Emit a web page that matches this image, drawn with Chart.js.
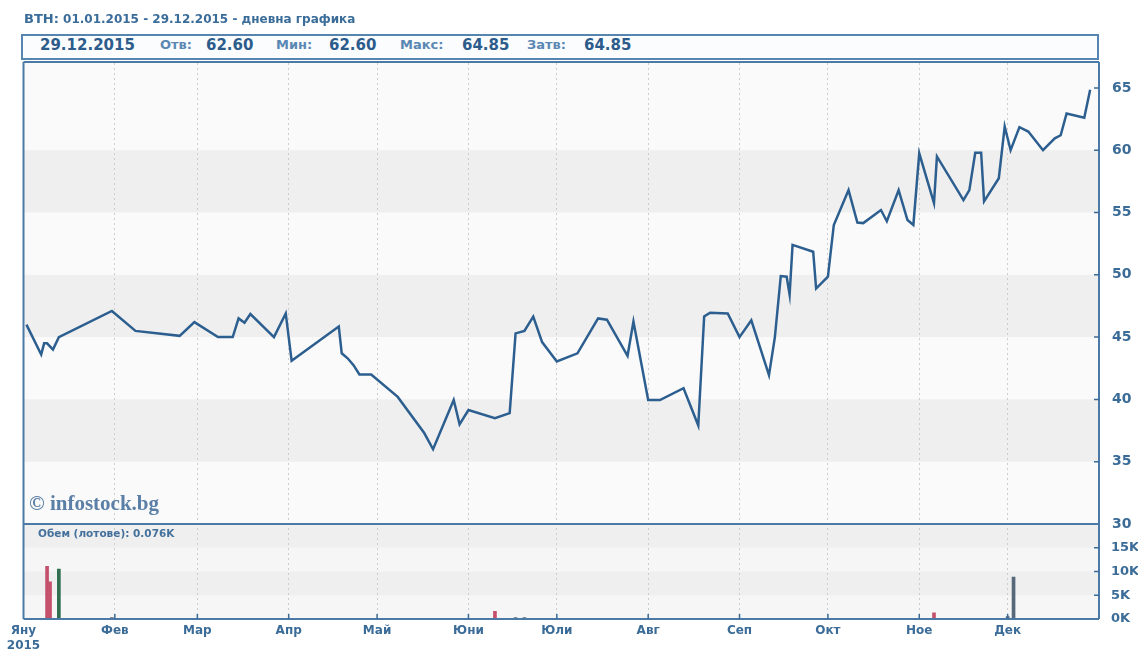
<!DOCTYPE html>
<html><head><meta charset="utf-8">
<script src="https://cdn.jsdelivr.net/npm/chart.js@4/dist/chart.umd.min.js"></script>
<style>
html,body{margin:0;padding:0;background:#fff;}
#wrap{position:relative;width:1138px;height:655px;overflow:hidden;font-family:"DejaVu Sans",sans-serif;}
#wrap canvas{position:absolute;left:0;top:0;}
.t{position:absolute;white-space:nowrap;z-index:2;}
#title{left:24px;top:11px;font-size:12px;font-weight:bold;color:#3a6c9a;}
#title b{font-size:13px;}
#hbox{position:absolute;left:21px;top:34px;width:1074px;height:22px;border:2px solid #5685b0;background:#fbfcfd;z-index:1;}
.hv{position:absolute;top:36px;font-size:15px;font-weight:bold;color:#2c5c8c;white-space:nowrap;z-index:2;}
.hl{position:absolute;top:37px;font-size:13px;font-weight:bold;color:#5a88b4;white-space:nowrap;z-index:2;}
#wm{left:29px;top:491px;font-family:"Liberation Serif",serif;font-size:21px;font-weight:bold;color:#5b7fa6;}
#vl{left:38px;top:527px;font-size:10.5px;font-weight:bold;color:#44719c;}
</style></head><body>
<div id="wrap">
<canvas id="c"></canvas>
<div id="title" class="t"><b>BTH:</b> 01.01.2015 - 29.12.2015 - дневна графика</div>
<div id="hbox"></div>
<div class="hv" style="left:40px">29.12.2015</div>
<div class="hl" style="left:160px">Отв:</div>
<div class="hv" style="left:206px">62.60</div>
<div class="hl" style="left:276px">Мин:</div>
<div class="hv" style="left:329px">62.60</div>
<div class="hl" style="left:400px">Макс:</div>
<div class="hv" style="left:462px">64.85</div>
<div class="hl" style="left:527px">Затв:</div>
<div class="hv" style="left:584px">64.85</div>
<div id="wm" class="t">© infostock.bg</div>
<div id="vl" class="t">Обем (лотове): 0.076K</div>
</div>
<script>
// ---- data ----
const priceDates = ['02.01','07.01','08.01','09.01','11.01','13.01','31.01','08.02','23.02','28.02',
 '08.03','13.03','15.03','17.03','19.03','27.03','31.03','02.04','18.04','19.04',
 '21.04','23.04','25.04','29.04','08.05','17.05','20.05','27.05','29.05','01.06',
 '10.06','15.06','17.06','20.06','23.06','26.06','01.07','08.07','15.07','18.07',
 '25.07','27.07','01.08','05.08','13.08','18.08','20.08','22.08','28.08','01.09',
 '05.09','11.09','13.09','15.09','17.09','18.09','19.09','26.09','27.09','01.10',
 '03.10','08.10','11.10','13.10','19.10','21.10','25.10','28.10','30.10','01.11',
 '06.11','07.11','16.11','18.11','20.11','22.11','23.11','28.11','30.11','02.12',
 '05.12','08.12','13.12','17.12','19.12','21.12','27.12','29.12'];
const priceValues = [46.0,43.6,44.5,44.5,44.0,45.0,47.1,45.5,45.1,46.2,
 45.0,45.0,46.5,46.15,46.85,45.0,46.9,43.1,45.85,43.7,
 43.3,42.75,42.0,42.0,40.2,37.3,36.0,39.95,38.0,39.15,
 38.5,38.9,45.3,45.5,46.65,44.6,43.05,43.7,46.5,46.4,
 43.5,46.25,39.95,39.95,40.9,37.9,46.65,46.95,46.9,45.0,
 46.35,41.95,45.0,49.9,49.85,48.4,52.4,51.85,48.9,49.85,
 54.0,56.8,54.2,54.15,55.2,54.3,56.8,54.4,54.0,59.75,
 55.75,59.5,56.0,56.8,59.8,59.8,55.9,57.75,61.9,60.0,
 61.85,61.5,60.0,60.95,61.2,62.95,62.6,64.85];
const volumeDates = ['09.01','10.01','13.01','31.01','10.06','17.06','20.06','06.11','01.12','03.12'];
const volumeValues = [11100,7800,10500,300,1600,300,300,1300,500,8850];
const volumeSide = ['down','down','up','flat','down','flat','flat','down','flat','flat'];
const monthLabels = ['Яну','Фев','Мар','Апр','Май','Юни','Юли','Авг','Сеп','Окт','Ное','Дек'];
const yearLabel = '2015';
const priceTicks = [30,35,40,45,50,55,60,65];
const volumeTicks = [0,5000,10000,15000];

// ---- helpers ----
function dayOf(s){const p=s.split('.').map(Number);return (Date.UTC(2015,p[1]-1,p[0])-Date.UTC(2015,0,1))/864e5;}
const monthStarts = monthLabels.map((m,i)=>dayOf('01.'+String(i+1).padStart(2,'0')));
const sideColor = {down:'#c4506c', up:'#2f6e4e', flat:'#56687a'};
const axisColor = '#3b6c98';
const lineBlue = '#4a7aa5';

const bgPlugin = {
  id:'bg',
  beforeDraw(chart){
    const {ctx, chartArea:a, scales} = chart;
    const yp = scales.y, yv = scales.yv;
    ctx.save();
    ctx.fillStyle = '#fafafa';
    ctx.fillRect(a.left, yp.top, a.right-a.left, yp.bottom-yp.top);
    ctx.fillStyle = '#f6f6f6';
    ctx.fillRect(a.left, yv.top, a.right-a.left, yv.bottom-yv.top);
    ctx.fillStyle = '#efefef';
    [[35,40],[45,50],[55,60]].forEach(([lo,hi])=>{
      const t = yp.getPixelForValue(hi), b = yp.getPixelForValue(lo);
      ctx.fillRect(a.left, t, a.right-a.left, b-t);
    });
    [[5000,10000],[15000,20000]].forEach(([lo,hi])=>{
      const t = yv.getPixelForValue(hi), b = yv.getPixelForValue(lo);
      ctx.fillRect(a.left, t, a.right-a.left, b-t);
    });
    ctx.restore();
  },
  afterDraw(chart){
    const {ctx, chartArea:a, scales} = chart;
    const yp = scales.y, yv = scales.yv, x = scales.x;
    ctx.save();
    ctx.strokeStyle = lineBlue;
    ctx.lineWidth = 2;
    ctx.beginPath();
    ctx.moveTo(a.left, yp.top-1); ctx.lineTo(a.right, yp.top-1);
    ctx.moveTo(a.left, yv.top); ctx.lineTo(a.right, yv.top);
    ctx.moveTo(a.left, a.bottom); ctx.lineTo(a.right, a.bottom);
    ctx.moveTo(a.left, yp.top-1); ctx.lineTo(a.left, a.bottom);
    ctx.moveTo(a.right, yp.top-1); ctx.lineTo(a.right, a.bottom);
    ctx.stroke();
    ctx.lineWidth = 1.5;
    ctx.strokeStyle = axisColor;
    ctx.beginPath();
    priceTicks.forEach(v=>{ if(v===30) return; const p=yp.getPixelForValue(v); ctx.moveTo(a.right-5,p); ctx.lineTo(a.right,p); });
    volumeTicks.forEach(v=>{ if(v===0) return; const p=yv.getPixelForValue(v); ctx.moveTo(a.right-5,p); ctx.lineTo(a.right,p); });
    monthStarts.forEach(v=>{ if(v===0) return; const p=x.getPixelForValue(v); ctx.moveTo(p,a.bottom-5); ctx.lineTo(p,a.bottom); });
    ctx.stroke();
    ctx.restore();
  }
};

new Chart(document.getElementById('c'), {
  type:'line',
  data:{
    datasets:[
      {type:'line', label:'BTH', yAxisID:'y', xAxisID:'x',
       data: priceDates.map((d,i)=>({x:dayOf(d), y:priceValues[i]})),
       borderColor:'#2c5f8f', borderWidth:2.5, pointRadius:0, tension:0, fill:false, order:1},
      {type:'bar', label:'Обем', yAxisID:'yv', xAxisID:'x',
       data: volumeDates.map((d,i)=>({x:dayOf(d), y:volumeValues[i]})),
       backgroundColor: volumeSide.map(s=>sideColor[s]), barThickness:3, grouped:false, order:2}
    ]
  },
  options:{
    responsive:true, maintainAspectRatio:false, animation:false,
    devicePixelRatio:1,
    layout:{padding:{left:23.5, top:63, right:0, bottom:0}},
    plugins:{legend:{display:false}, tooltip:{enabled:false}},
    scales:{
      x:{type:'linear', min:0, max:365, position:'bottom', offset:false,
         afterBuildTicks(s){ s.ticks = monthStarts.map(v=>({value:v})); },
         afterFit(s){ s.height = 36; },
         grid:{display:true, offset:false, drawTicks:false, color:'#cccccc', lineWidth:1},
         border:{display:false, dash:[2,3]},
         ticks:{autoSkip:false, maxRotation:0, padding:5, color:axisColor,
                font:{family:'DejaVu Sans', size:12, weight:'bold'},
                callback(v,i){ return i===0 ? [monthLabels[0], yearLabel] : monthLabels[i]; }}},
      y:{type:'linear', position:'right', stack:'main', stackWeight:461, min:30, max:67,
         afterBuildTicks(s){ s.ticks = priceTicks.map(v=>({value:v})); },
         afterFit(s){ s.width = 39; },
         grid:{display:false}, border:{display:false},
         ticks:{autoSkip:false, padding:5, color:axisColor, font:{family:'DejaVu Sans', size:14, weight:'bold'}}},
      yv:{type:'linear', position:'right', stack:'main', stackWeight:95, min:0, max:20000,
         afterBuildTicks(s){ s.ticks = volumeTicks.map(v=>({value:v})); },
         afterFit(s){ s.width = 39; },
         grid:{display:false}, border:{display:false},
         ticks:{autoSkip:false, padding:4, color:axisColor, font:{family:'DejaVu Sans', size:13, weight:'bold'},
                callback(v){ return (v/1000)+'K'; }}}
    }
  },
  plugins:[bgPlugin]
});
</script>
</body></html>
